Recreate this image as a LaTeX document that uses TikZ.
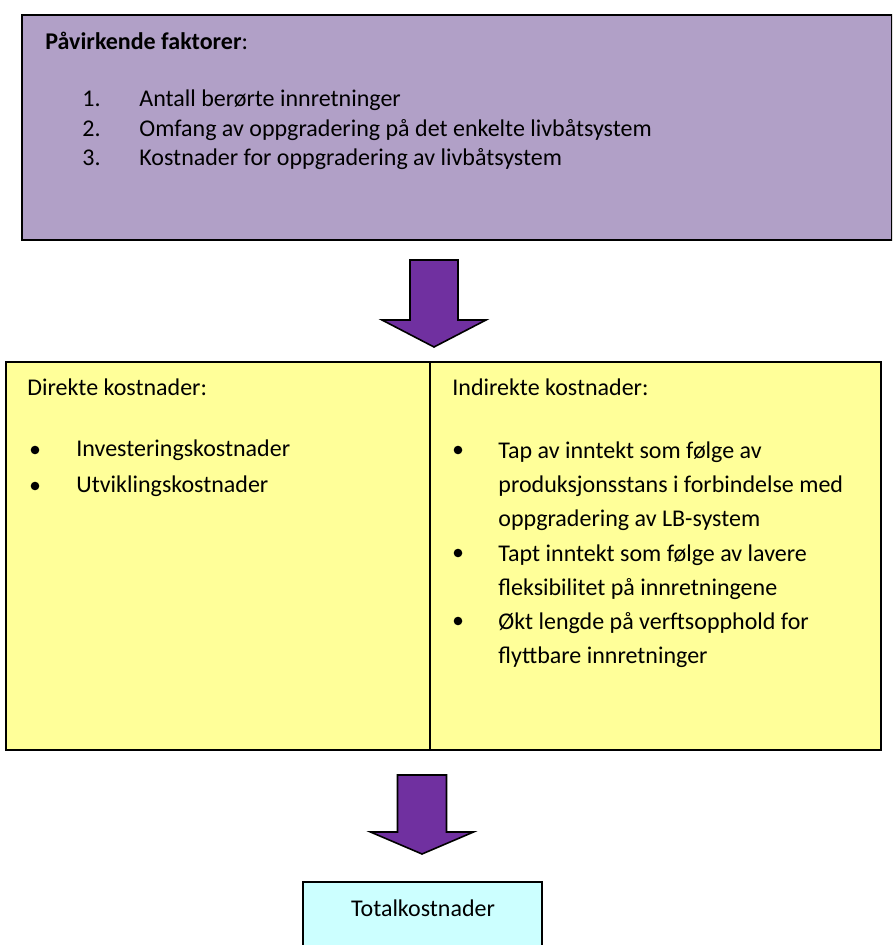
\documentclass[tikz,border=0pt]{standalone}
\usepackage{fontspec}
\setmainfont{Carlito}
\usetikzlibrary{positioning,calc}
\definecolor{FactorPurple}{RGB}{177, 160, 199}
\definecolor{CostYellow}{RGB}{255, 255, 153}
\definecolor{TotalCyan}{RGB}{204, 255, 255}
\definecolor{ArrowPurple}{RGB}{112, 48, 160}

\begin{document}
\begin{tikzpicture}[x=0.5pt, y=-0.5pt,
    factorbox/.style={rectangle, draw=black, fill=FactorPurple, line width=1.2pt, minimum width=435pt, minimum height=112.5pt, inner sep=0pt},
    costbox/.style={rectangle, draw=black, fill=CostYellow, line width=1.2pt, minimum width=437.5pt, minimum height=194pt, inner sep=0pt},
    totalbox/.style={rectangle, draw=black, fill=TotalCyan, line width=0.8pt, minimum width=119.5pt, minimum height=50pt, inner sep=0pt},
    bigarrow/.style={draw=black, fill=ArrowPurple, line width=0.8pt, line join=miter},
    txt/.style={font=\fontsize{12pt}{14.6pt}\selectfont, inner sep=0pt, anchor=west, text height=8.6pt, text depth=2.6pt},
    item/.style={font=\fontsize{12pt}{17pt}\selectfont, inner sep=0pt, anchor=north west, align=left}
]
\useasboundingbox (0,0) rectangle (892,945);
\clip (0,0) rectangle (892,945);

% Factors
\node[factorbox] (factors) at (457, 127.5) {};
\node[txt] (ftitle) at (45, 44) {\textbf{Påvirkende faktorer}:};
\node[txt] (n1) at (82, 101) {1.};
\node[txt] (n2) at (82, 131) {2.};
\node[txt] (n3) at (82, 160) {3.};
\node[txt] (f1) at (139, 101) {Antall berørte innretninger};
\node[txt] (f2) at (139, 131) {Omfang av oppgradering på det enkelte livbåtsystem};
\node[txt] (f3) at (139, 160) {Kostnader for oppgradering av livbåtsystem};

% Arrow 1
\coordinate (a1) at (434, 260);
\draw[bigarrow] ($(a1)+(-24,0)$) -- ++(48,0) -- ++(0,60) -- ++(28,0) -- ($(a1)+(0,87)$)
    -- ($(a1)+(-52,60)$) -- ++(28,0) -- cycle;

% Costs
\node[costbox] (costs) at (443.5, 556) {};
\draw[line width=1.2pt] (430, 362) -- (430, 750);
\node[txt] (dtitle) at (27, 390) {Direkte kostnader:};
\node[txt] (d1) at (76, 450) {Investeringskostnader};
\node[txt] (d2) at (76, 486) {Utviklingskostnader};
\foreach \y in {450, 486} \fill (35, \y) circle (4.3);
\node[txt] (ititle) at (452, 390) {Indirekte kostnader:};
\node[item] (i1) at (498, 441) {Tap av inntekt som følge av\\produksjonsstans i forbindelse med\\oppgradering av LB-system};
\node[item] (i2) at (498, 544) {Tapt inntekt som følge av lavere\\fleksibilitet på innretningene};
\node[item] (i3) at (498, 612) {Økt lengde på verftsopphold for\\flyttbare innretninger};
\foreach \y in {450, 553, 621} \fill (458, \y) circle (4.3);

% Arrow 2
\coordinate (a2) at (422, 775);
\draw[bigarrow] ($(a2)+(-24.5,0)$) -- ++(49,0) -- ++(0,57) -- ++(27,0) -- ($(a2)+(0,79)$)
    -- ($(a2)+(-51.5,57)$) -- ++(27,0) -- cycle;

% Total
\node[totalbox] (total) at (422.5, 932) {};
\node[txt, anchor=center] (ttitle) at (423, 910) {Totalkostnader};

\end{tikzpicture}
\end{document}
